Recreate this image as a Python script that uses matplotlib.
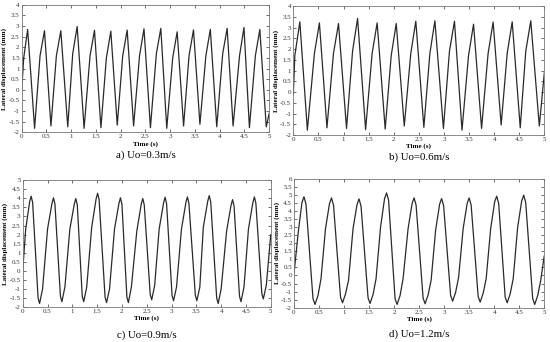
import numpy as np
import matplotlib.pyplot as plt

plt.rcParams['font.family'] = 'Liberation Serif'

# ---- data (time s, displacement mm) ----
# a) Uo=0.3m/s
a_peak_t = [0.12, 0.46, 0.79, 1.12, 1.47, 1.80, 2.13, 2.47, 2.81, 3.14, 3.47, 3.81, 4.15, 4.49, 4.81]
a_peak_v = [2.84, 2.78, 2.78, 2.98, 2.80, 2.76, 2.81, 2.87, 2.89, 2.73, 2.82, 2.84, 2.89, 2.93, 2.84]
a_trough_t = [0.26, 0.59, 0.93, 1.26, 1.60, 1.93, 2.26, 2.60, 2.93, 3.27, 3.60, 3.94, 4.27, 4.60, 4.94]
a_trough_v = [-1.81, -1.70, -1.74, -1.81, -1.78, -1.66, -1.70, -1.78, -1.81, -1.70, -1.62, -1.74, -1.70, -1.78, -1.74]
a_sh_t = [0.04, 0.37, 0.70, 1.03, 1.38, 1.71, 2.04, 2.38, 2.72, 3.05, 3.38, 3.72, 4.06, 4.40, 4.72]
a_sh_v = [1.5, 1.6, 1.6, 1.7, 1.6, 1.5, 1.6, 1.6, 1.7, 1.5, 1.6, 1.6, 1.7, 1.6, 1.6]
a_end_t = [0.0, 5.0]
a_end_v = [0.0, -1.1]

# b) Uo=0.6m/s
b_peak_t = [0.13, 0.52, 0.90, 1.28, 1.67, 2.05, 2.44, 2.82, 3.21, 3.59, 3.98, 4.36, 4.73]
b_peak_v = [3.27, 3.22, 3.19, 3.43, 3.22, 3.19, 3.30, 3.32, 3.30, 3.16, 3.26, 3.27, 3.32]
b_trough_t = [0.28, 0.67, 1.06, 1.44, 1.83, 2.21, 2.60, 2.99, 3.36, 3.75, 4.14, 4.52, 4.90]
b_trough_v = [-1.77, -1.66, -1.69, -1.74, -1.72, -1.58, -1.64, -1.69, -1.77, -1.69, -1.53, -1.66, -1.58]
b_sh_t = [0.03, 0.42, 0.80, 1.18, 1.57, 1.95, 2.34, 2.72, 3.11, 3.49, 3.88, 4.26, 4.63]
b_sh_v = [1.7, 1.8, 1.8, 1.9, 1.8, 1.7, 1.8, 1.8, 1.9, 1.7, 1.8, 1.8, 1.9]
b_end_t = [0.0, 5.0]
b_end_v = [-0.1, 0.9]

# c) Uo=0.9m/s
c_peak_t = [0.17, 0.62, 1.07, 1.51, 1.97, 2.42, 2.87, 3.32, 3.76, 4.23, 4.67]
c_peak_v = [4.12, 4.03, 3.99, 4.28, 4.03, 3.99, 4.06, 4.08, 4.15, 3.93, 4.08]
c_pre_t = [0.14, 0.59, 1.04, 1.48, 1.94, 2.39, 2.84, 3.29, 3.73, 4.20, 4.64]
c_pre_v = [3.82, 3.73, 3.69, 3.98, 3.73, 3.69, 3.76, 3.78, 3.85, 3.63, 3.78]
c_post_t = [0.20, 0.65, 1.10, 1.54, 2.00, 2.45, 2.90, 3.35, 3.79, 4.26, 4.70]
c_post_v = [3.77, 3.68, 3.64, 3.93, 3.68, 3.64, 3.71, 3.73, 3.80, 3.58, 3.73]
c_trough_t = [0.34, 0.79, 1.23, 1.69, 2.13, 2.60, 3.04, 3.51, 3.94, 4.40, 4.85]
c_trough_v = [-1.80, -1.70, -1.70, -1.75, -1.75, -1.60, -1.65, -1.65, -1.80, -1.70, -1.55]
c_tpre_t = [0.31, 0.76, 1.20, 1.66, 2.10, 2.57, 3.01, 3.48, 3.91, 4.37, 4.82]
c_tpre_v = [-1.50, -1.40, -1.40, -1.45, -1.45, -1.30, -1.35, -1.35, -1.50, -1.40, -1.25]
c_kink_t = [0.40, 0.85, 1.29, 1.75, 2.19, 2.66, 3.10, 3.57, 4.00, 4.46, 4.91]
c_kink_v = [-1.0, -0.9, -0.9, -1.0, -0.9, -0.8, -0.9, -0.9, -1.0, -0.9, -0.8]
c_sh_t = [0.06, 0.50, 0.95, 1.39, 1.85, 2.30, 2.75, 3.20, 3.64, 4.11, 4.55]
c_sh_v = [2.3, 2.3, 2.3, 2.4, 2.3, 2.2, 2.3, 2.3, 2.4, 2.2, 2.3]
c_end_t = [0.0, 5.0]
c_end_v = [0.0, 2.0]

# d) Uo=1.2m/s
d_peak_t = [0.20, 0.75, 1.30, 1.85, 2.40, 2.95, 3.50, 4.05, 4.59]
d_peak_v = [4.87, 4.80, 4.74, 5.11, 4.80, 4.76, 4.80, 4.91, 4.97]
d_pre_t = [0.16, 0.71, 1.26, 1.81, 2.36, 2.91, 3.46, 4.01, 4.55]
d_pre_v = [4.52, 4.45, 4.39, 4.76, 4.45, 4.41, 4.45, 4.56, 4.62]
d_post_t = [0.24, 0.79, 1.34, 1.89, 2.44, 2.99, 3.54, 4.09, 4.63]
d_post_v = [4.42, 4.35, 4.29, 4.66, 4.35, 4.31, 4.35, 4.46, 4.52]
d_trough_t = [0.42, 0.97, 1.52, 2.06, 2.62, 3.17, 3.72, 4.26, 4.81]
d_trough_v = [-1.79, -1.69, -1.73, -1.79, -1.75, -1.59, -1.65, -1.69, -1.79]
d_tpre_t = [0.38, 0.93, 1.48, 2.02, 2.58, 3.13, 3.68, 4.22, 4.77]
d_tpre_v = [-1.44, -1.34, -1.38, -1.44, -1.40, -1.24, -1.30, -1.34, -1.44]
d_tpost_t = [0.48, 1.03, 1.58, 2.12, 2.68, 3.23, 3.78, 4.32, 4.87]
d_tpost_v = [-1.24, -1.14, -1.18, -1.24, -1.20, -1.04, -1.10, -1.14, -1.24]
d_kink_t = [0.54, 1.09, 1.64, 2.18, 2.74, 3.29, 3.84, 4.38, 4.93]
d_kink_v = [-0.2, -0.3, -0.2, -0.2, -0.3, -0.1, -0.2, -0.2, -0.3]
d_sh_t = [0.09, 0.63, 1.18, 1.73, 2.28, 2.83, 3.38, 3.93, 4.47]
d_sh_v = [2.8, 2.9, 2.9, 3.0, 2.9, 2.8, 2.9, 2.9, 3.0]
d_end_t = [0.0, 5.0]
d_end_v = [0.1, 1.2]

panels = [
    ("a) Uo=0.3m/s", (-2, 4), [(a_peak_t, a_peak_v), (a_trough_t, a_trough_v),
                               (a_sh_t, a_sh_v), (a_end_t, a_end_v)]),
    ("b) Uo=0.6m/s", (-2, 4), [(b_peak_t, b_peak_v), (b_trough_t, b_trough_v),
                               (b_sh_t, b_sh_v), (b_end_t, b_end_v)]),
    ("c) Uo=0.9m/s", (-2, 5), [(c_peak_t, c_peak_v), (c_pre_t, c_pre_v), (c_post_t, c_post_v),
                               (c_trough_t, c_trough_v), (c_tpre_t, c_tpre_v),
                               (c_kink_t, c_kink_v), (c_sh_t, c_sh_v), (c_end_t, c_end_v)]),
    ("d) Uo=1.2m/s", (-2, 6), [(d_peak_t, d_peak_v), (d_pre_t, d_pre_v), (d_post_t, d_post_v),
                               (d_trough_t, d_trough_v), (d_tpre_t, d_tpre_v), (d_tpost_t, d_tpost_v),
                               (d_kink_t, d_kink_v), (d_sh_t, d_sh_v), (d_end_t, d_end_v)]),
]

# axes boxes [left, bottom, width, height] and caption y, figure fractions
boxes = [
    [0.0395, 0.613, 0.450, 0.373],
    [0.5333, 0.605, 0.4564, 0.377],
    [0.0413, 0.102, 0.451, 0.371],
    [0.5345, 0.100, 0.455, 0.378],
]
cap_y = [0.547, 0.541, 0.020, 0.023]

fig = plt.figure(figsize=(5.5, 3.42), dpi=100)

for (cap, ylim, sets), box, cy in zip(panels, boxes, cap_y):
    ax = fig.add_axes(box)
    pts = []
    for ts, vs in sets:
        pts += list(zip(ts, vs))
    pts.sort()
    t = [p[0] for p in pts]
    v = [p[1] for p in pts]
    ax.plot(t, v, color='#2a2a2a', lw=0.9, solid_joinstyle='round')
    ax.set_xlim(0, 5)
    ax.set_ylim(*ylim)
    ax.set_xticks(np.arange(0, 5.01, 0.5))
    ax.set_xticklabels(['0', '0.5', '1', '1.5', '2', '2.5', '3', '3.5', '4', '4.5', '5'])
    yt = np.arange(ylim[0], ylim[1] + 0.01, 0.5)
    ax.set_yticks(yt)
    ax.set_yticklabels(['%g' % y for y in yt])
    ax.tick_params(direction='in', top=True, right=True, labelsize=5, length=2,
                   width=0.5, pad=1.5, colors='#333333')
    for s in ax.spines.values():
        s.set_linewidth(0.6)
        s.set_color('#777777')
    ax.set_xlabel('Time (s)', fontsize=5, fontweight='bold', labelpad=1)
    ax.set_ylabel('Lateral displacement (mm)', fontsize=5, fontweight='bold', labelpad=1)
    fig.text(box[0] + box[2] / 2, cy, cap, ha='center', va='center', fontsize=7.8)

fig.savefig('out.png', dpi=100)
